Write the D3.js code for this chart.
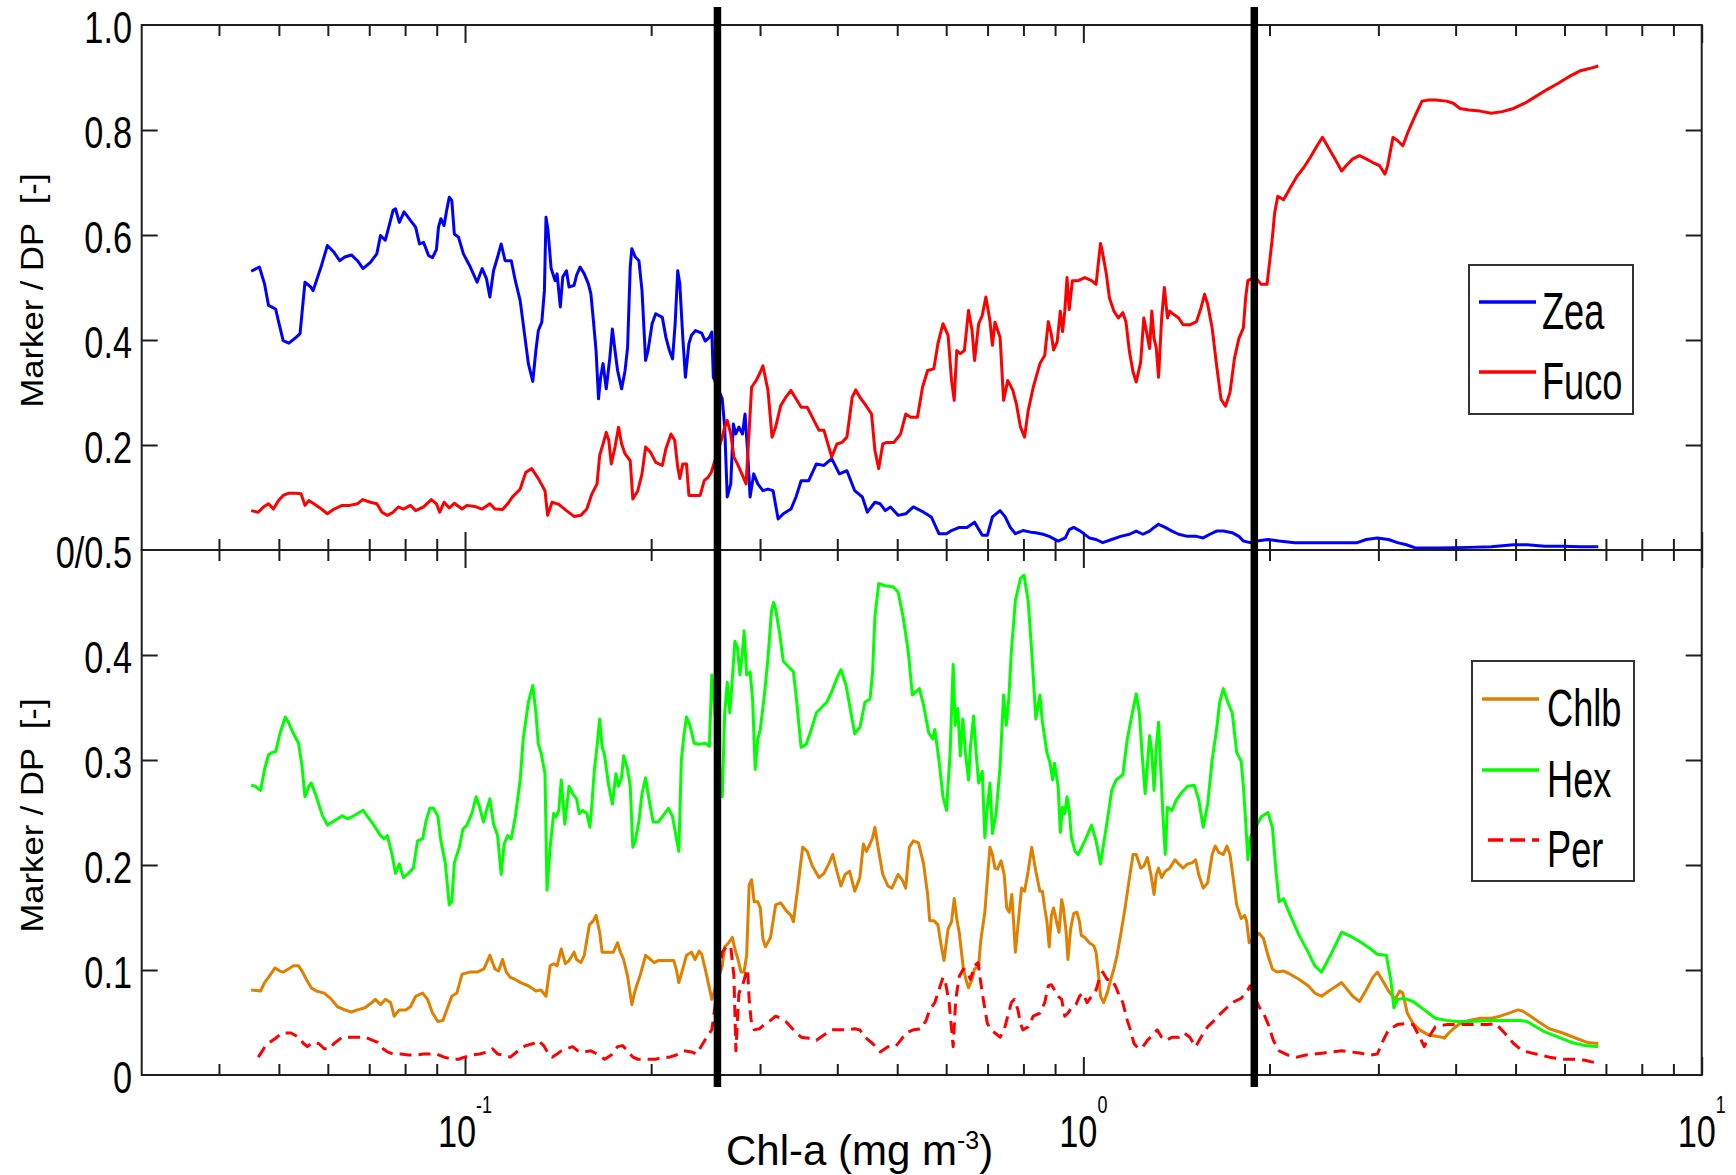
<!DOCTYPE html>
<html>
<head>
<meta charset="utf-8">
<script src="https://cdn.jsdelivr.net/npm/d3@7"></script>
<style>
  html, body { margin: 0; padding: 0; background: #fff; }
  svg { display: block; }
  text { font-family: "Liberation Sans", Arial, Helvetica, sans-serif; fill: #000; }
</style>
</head>
<body>
<svg id="chart" width="1736" height="1175"></svg>
<script>
// Marker pigment / diagnostic pigment ratios against Chl-a (running means), [chl, ratio]
const zea = [[0.0451,0.531],[0.0465,0.539],[0.0474,0.507],[0.0481,0.466],[0.0494,0.459],[0.0499,0.437],[0.0508,0.399],[0.0519,0.394],[0.0533,0.405],[0.0541,0.412],[0.0551,0.510],[0.0563,0.501],[0.0568,0.494],[0.0586,0.542],[0.0599,0.580],[0.0614,0.567],[0.0627,0.551],[0.0639,0.558],[0.0655,0.562],[0.0670,0.551],[0.0684,0.536],[0.0703,0.548],[0.0720,0.564],[0.0730,0.599],[0.0743,0.590],[0.0749,0.605],[0.0765,0.647],[0.0772,0.650],[0.0783,0.624],[0.0797,0.644],[0.0816,0.628],[0.0832,0.615],[0.0844,0.583],[0.0857,0.586],[0.0873,0.561],[0.0886,0.557],[0.0899,0.572],[0.0906,0.615],[0.0914,0.631],[0.0925,0.618],[0.0934,0.647],[0.0943,0.672],[0.0952,0.666],[0.0961,0.602],[0.0976,0.596],[0.0994,0.564],[0.1017,0.542],[0.1046,0.510],[0.1066,0.536],[0.1083,0.517],[0.1097,0.482],[0.1112,0.532],[0.1129,0.558],[0.1144,0.583],[0.1161,0.551],[0.1188,0.551],[0.1206,0.513],[0.1228,0.475],[0.1244,0.424],[0.1266,0.355],[0.1287,0.321],[0.1302,0.380],[0.1314,0.418],[0.1331,0.434],[0.1344,0.494],[0.1352,0.634],[0.1362,0.609],[0.1378,0.536],[0.1399,0.513],[0.1409,0.526],[0.1426,0.463],[0.1439,0.520],[0.1459,0.532],[0.1473,0.501],[0.1501,0.504],[0.1515,0.523],[0.1535,0.539],[0.1559,0.526],[0.1583,0.507],[0.1598,0.488],[0.1613,0.437],[0.1629,0.380],[0.1644,0.288],[0.1657,0.329],[0.1672,0.355],[0.1692,0.307],[0.1715,0.367],[0.1731,0.421],[0.1748,0.380],[0.1765,0.342],[0.1792,0.307],[0.1815,0.342],[0.1832,0.386],[0.1850,0.539],[0.1861,0.574],[0.1885,0.558],[0.1911,0.551],[0.1933,0.494],[0.1959,0.361],[0.1977,0.380],[0.2007,0.431],[0.2034,0.450],[0.2085,0.443],[0.2113,0.405],[0.2141,0.380],[0.2166,0.364],[0.2187,0.431],[0.2208,0.532],[0.2225,0.507],[0.2250,0.405],[0.2272,0.329],[0.2302,0.393],[0.2324,0.409],[0.2360,0.418],[0.2414,0.413],[0.2446,0.398],[0.2484,0.405],[0.2507,0.415],[0.2521,0.329],[0.2606,0.288],[0.2630,0.234],[0.2655,0.101],[0.2690,0.126],[0.2716,0.240],[0.2741,0.221],[0.2773,0.234],[0.2810,0.221],[0.2837,0.259],[0.2864,0.189],[0.2891,0.101],[0.2930,0.145],[0.2975,0.126],[0.3032,0.113],[0.3090,0.116],[0.3149,0.113],[0.3209,0.059],[0.3271,0.069],[0.3366,0.078],[0.3430,0.101],[0.3496,0.132],[0.3596,0.132],[0.3700,0.164],[0.3806,0.161],[0.3918,0.174],[0.4031,0.145],[0.4146,0.151],[0.4268,0.113],[0.4391,0.101],[0.4474,0.072],[0.4601,0.091],[0.4693,0.088],[0.4783,0.075],[0.4876,0.082],[0.5016,0.066],[0.5161,0.069],[0.5310,0.082],[0.5516,0.072],[0.5676,0.063],[0.5840,0.031],[0.6007,0.031],[0.6121,0.037],[0.6301,0.043],[0.6483,0.043],[0.6669,0.053],[0.6863,0.028],[0.6994,0.028],[0.7127,0.063],[0.7334,0.075],[0.7475,0.063],[0.7617,0.043],[0.7764,0.031],[0.7985,0.037],[0.8220,0.034],[0.8368,0.033],[0.8607,0.030],[0.8805,0.026],[0.9103,0.017],[0.9349,0.023],[0.9488,0.039],[0.9645,0.043],[0.9890,0.036],[1.0226,0.023],[1.0484,0.020],[1.0749,0.014],[1.1112,0.020],[1.1486,0.026],[1.1874,0.030],[1.2175,0.036],[1.2482,0.030],[1.2797,0.036],[1.3012,0.043],[1.3231,0.049],[1.3564,0.043],[1.3907,0.036],[1.4260,0.030],[1.4741,0.026],[1.5238,0.026],[1.5625,0.023],[1.6018,0.030],[1.6423,0.036],[1.6840,0.036],[1.7408,0.033],[1.7847,0.026],[1.8147,0.017],[1.8605,0.014],[1.9075,0.017],[1.9886,0.020],[2.0729,0.017],[2.1971,0.014],[2.3484,0.014],[2.5520,0.014],[2.7732,0.014],[2.8666,0.020],[2.988,0.023],[3.1153,0.020],[3.2205,0.014],[3.3296,0.010],[3.4422,0.004],[3.7408,0.004],[4.2027,0.005],[4.5671,0.006],[4.9630,0.010],[5.2167,0.010],[5.5750,0.007],[5.9588,0.007],[6.3690,0.006],[6.8049,0.006]];

const fuco = [[0.0451,0.075],[0.0463,0.072],[0.0472,0.082],[0.0481,0.088],[0.0490,0.078],[0.0499,0.094],[0.0508,0.104],[0.0518,0.108],[0.0533,0.108],[0.0543,0.107],[0.0551,0.085],[0.0559,0.094],[0.0568,0.089],[0.0586,0.078],[0.0599,0.069],[0.0614,0.078],[0.0633,0.085],[0.0651,0.085],[0.0670,0.088],[0.0683,0.096],[0.0703,0.091],[0.0720,0.088],[0.0734,0.072],[0.0749,0.066],[0.0765,0.072],[0.0780,0.082],[0.0795,0.078],[0.0816,0.085],[0.0832,0.075],[0.0857,0.082],[0.0882,0.096],[0.0899,0.088],[0.0910,0.072],[0.0925,0.091],[0.0943,0.080],[0.0961,0.089],[0.0989,0.078],[0.1007,0.085],[0.1037,0.083],[0.1066,0.078],[0.1097,0.088],[0.1118,0.078],[0.1150,0.077],[0.1172,0.088],[0.1195,0.102],[0.1228,0.116],[0.1254,0.148],[0.1282,0.155],[0.1314,0.136],[0.1347,0.113],[0.1360,0.066],[0.1383,0.091],[0.1418,0.087],[0.1459,0.075],[0.1501,0.064],[0.1539,0.066],[0.1574,0.078],[0.1604,0.107],[0.1635,0.126],[0.1651,0.180],[0.1672,0.202],[0.1692,0.224],[0.1708,0.209],[0.1724,0.164],[0.1748,0.196],[0.1771,0.234],[0.1792,0.202],[0.1815,0.183],[0.1850,0.170],[0.1868,0.097],[0.1903,0.113],[0.1933,0.145],[0.1959,0.196],[0.1996,0.186],[0.2034,0.167],[0.2085,0.161],[0.2113,0.193],[0.2153,0.221],[0.2183,0.209],[0.2208,0.158],[0.2225,0.136],[0.2250,0.164],[0.2281,0.164],[0.2302,0.104],[0.2355,0.104],[0.2400,0.104],[0.2437,0.132],[0.2474,0.139],[0.2502,0.148],[0.2606,0.215],[0.2630,0.234],[0.2655,0.247],[0.2690,0.221],[0.2722,0.177],[0.2758,0.164],[0.2810,0.142],[0.2848,0.126],[0.2881,0.228],[0.2907,0.310],[0.2958,0.323],[0.3003,0.339],[0.3032,0.351],[0.3090,0.304],[0.3137,0.215],[0.3179,0.234],[0.3240,0.275],[0.3302,0.291],[0.3366,0.304],[0.3430,0.288],[0.3496,0.272],[0.3576,0.272],[0.3666,0.247],[0.3736,0.228],[0.3806,0.228],[0.3918,0.177],[0.3994,0.202],[0.4070,0.205],[0.4146,0.215],[0.4228,0.291],[0.4285,0.305],[0.4350,0.291],[0.4434,0.278],[0.4544,0.259],[0.4601,0.190],[0.4667,0.155],[0.4738,0.202],[0.4811,0.205],[0.4940,0.205],[0.5063,0.221],[0.5161,0.259],[0.5260,0.253],[0.5391,0.253],[0.5494,0.310],[0.5599,0.342],[0.5730,0.345],[0.5818,0.393],[0.5929,0.431],[0.6043,0.409],[0.6121,0.323],[0.6182,0.285],[0.6241,0.380],[0.6324,0.374],[0.6421,0.380],[0.6520,0.456],[0.6607,0.418],[0.6669,0.361],[0.6771,0.431],[0.6863,0.447],[0.6956,0.482],[0.7061,0.437],[0.7127,0.390],[0.7196,0.434],[0.7334,0.405],[0.7430,0.285],[0.7546,0.323],[0.7691,0.304],[0.7793,0.278],[0.7913,0.234],[0.8034,0.215],[0.8141,0.265],[0.8298,0.310],[0.8506,0.355],[0.8660,0.371],[0.8776,0.435],[0.8878,0.410],[0.8952,0.381],[0.9072,0.397],[0.9178,0.455],[0.9254,0.416],[0.9332,0.455],[0.9410,0.519],[0.9488,0.458],[0.9599,0.513],[0.9809,0.513],[1.0056,0.519],[1.0311,0.513],[1.0484,0.506],[1.0571,0.545],[1.0660,0.584],[1.0749,0.564],[1.0892,0.526],[1.1020,0.480],[1.1204,0.455],[1.1392,0.442],[1.1583,0.452],[1.1718,0.435],[1.1874,0.377],[1.2033,0.339],[1.2175,0.320],[1.2379,0.358],[1.2524,0.442],[1.2650,0.416],[1.2797,0.384],[1.2903,0.455],[1.3012,0.403],[1.3122,0.384],[1.3231,0.329],[1.3386,0.442],[1.3520,0.500],[1.3678,0.442],[1.3793,0.455],[1.4022,0.448],[1.4260,0.442],[1.4498,0.429],[1.4865,0.429],[1.5238,0.435],[1.5496,0.461],[1.5704,0.487],[1.5887,0.468],[1.6153,0.423],[1.6423,0.352],[1.6699,0.287],[1.6980,0.274],[1.7264,0.300],[1.7554,0.365],[1.7847,0.403],[1.8147,0.423],[1.8299,0.480],[1.8451,0.513],[1.8667,0.516],[1.9075,0.516],[1.9393,0.506],[1.9816,0.506],[2.0051,0.558],[2.0218,0.596],[2.0387,0.642],[2.0626,0.674],[2.1075,0.667],[2.1610,0.690],[2.2155,0.712],[2.2714,0.728],[2.3287,0.748],[2.3876,0.770],[2.4358,0.786],[2.4888,0.767],[2.5520,0.745],[2.6163,0.722],[2.6602,0.732],[2.7271,0.745],[2.7962,0.751],[2.8666,0.745],[2.9390,0.738],[3.0137,0.732],[3.0743,0.716],[3.1050,0.732],[3.1677,0.786],[3.2205,0.780],[3.2857,0.770],[3.3574,0.799],[3.4422,0.828],[3.5290,0.855],[3.6183,0.857],[3.7098,0.857],[3.8674,0.855],[3.9649,0.851],[4.0650,0.841],[4.2027,0.838],[4.3809,0.836],[4.5671,0.832],[4.7607,0.835],[4.9630,0.841],[5.1734,0.851],[5.3933,0.864],[5.6220,0.877],[5.8609,0.889],[6.1094,0.902],[6.3690,0.913],[6.5836,0.917],[6.8049,0.922]];

const chlb = [[0.0451,0.081],[0.0467,0.080],[0.0474,0.088],[0.0481,0.093],[0.0493,0.102],[0.0502,0.099],[0.0508,0.098],[0.0518,0.101],[0.0528,0.104],[0.0538,0.104],[0.0545,0.099],[0.0554,0.091],[0.0564,0.083],[0.0575,0.080],[0.0592,0.078],[0.0606,0.073],[0.0622,0.065],[0.0639,0.062],[0.0655,0.060],[0.0670,0.062],[0.0689,0.064],[0.0707,0.069],[0.0716,0.072],[0.0730,0.067],[0.0743,0.072],[0.0758,0.069],[0.0768,0.056],[0.0783,0.062],[0.0802,0.062],[0.0816,0.065],[0.0832,0.075],[0.0854,0.078],[0.0870,0.072],[0.0886,0.059],[0.0904,0.051],[0.0921,0.052],[0.0934,0.062],[0.0952,0.075],[0.0970,0.078],[0.0989,0.096],[0.1017,0.098],[0.1046,0.098],[0.1073,0.101],[0.1097,0.114],[0.1118,0.101],[0.1133,0.099],[0.1150,0.110],[0.1166,0.098],[0.1184,0.093],[0.1206,0.091],[0.1230,0.088],[0.1266,0.085],[0.1302,0.080],[0.1327,0.081],[0.1352,0.075],[0.1373,0.104],[0.1391,0.106],[0.1409,0.104],[0.1431,0.120],[0.1453,0.106],[0.1473,0.109],[0.1501,0.117],[0.1515,0.110],[0.1539,0.107],[0.1559,0.114],[0.1589,0.143],[0.1613,0.147],[0.1629,0.152],[0.1651,0.136],[0.1666,0.117],[0.1715,0.117],[0.1737,0.117],[0.1765,0.126],[0.1781,0.118],[0.1805,0.110],[0.1832,0.094],[0.1861,0.067],[0.1885,0.081],[0.1922,0.096],[0.1959,0.114],[0.1996,0.110],[0.2022,0.107],[0.2053,0.109],[0.2093,0.109],[0.2133,0.109],[0.2175,0.109],[0.2196,0.101],[0.2217,0.088],[0.2250,0.101],[0.2281,0.114],[0.2324,0.117],[0.2355,0.110],[0.2391,0.118],[0.2414,0.115],[0.2446,0.101],[0.2484,0.083],[0.2507,0.072],[0.2606,0.104],[0.2630,0.122],[0.2670,0.126],[0.2706,0.131],[0.2732,0.120],[0.2758,0.112],[0.2795,0.098],[0.2827,0.098],[0.2854,0.114],[0.2881,0.181],[0.2907,0.186],[0.2935,0.165],[0.2975,0.165],[0.3003,0.159],[0.3032,0.130],[0.3061,0.122],[0.3119,0.131],[0.3179,0.162],[0.3240,0.164],[0.3302,0.157],[0.3366,0.152],[0.3397,0.146],[0.3462,0.184],[0.3516,0.217],[0.3576,0.213],[0.3645,0.199],[0.3736,0.188],[0.3806,0.192],[0.3882,0.202],[0.3933,0.210],[0.3994,0.194],[0.4055,0.180],[0.4117,0.191],[0.4188,0.194],[0.4268,0.175],[0.4350,0.188],[0.4408,0.220],[0.4459,0.213],[0.4518,0.220],[0.4562,0.226],[0.4601,0.236],[0.4667,0.213],[0.4738,0.191],[0.4829,0.180],[0.4903,0.178],[0.5016,0.191],[0.5092,0.186],[0.5161,0.178],[0.5230,0.217],[0.5310,0.223],[0.5412,0.221],[0.5516,0.201],[0.5599,0.172],[0.5643,0.147],[0.5730,0.147],[0.5818,0.143],[0.5895,0.122],[0.5951,0.109],[0.6043,0.139],[0.6121,0.146],[0.6182,0.168],[0.6241,0.149],[0.6301,0.135],[0.6397,0.101],[0.6458,0.091],[0.6520,0.083],[0.6607,0.091],[0.6669,0.101],[0.6771,0.104],[0.6824,0.128],[0.6929,0.155],[0.6994,0.186],[0.7061,0.217],[0.7127,0.210],[0.7196,0.197],[0.7265,0.196],[0.7360,0.204],[0.7446,0.191],[0.7518,0.159],[0.7589,0.155],[0.7662,0.172],[0.7764,0.117],[0.7868,0.152],[0.7943,0.178],[0.8034,0.175],[0.8141,0.194],[0.8251,0.217],[0.8378,0.194],[0.8506,0.175],[0.8586,0.175],[0.8660,0.159],[0.8732,0.146],[0.8805,0.122],[0.8878,0.152],[0.8952,0.159],[0.9072,0.143],[0.9132,0.136],[0.9224,0.167],[0.9284,0.159],[0.9378,0.136],[0.9441,0.110],[0.9536,0.139],[0.9647,0.154],[0.9760,0.155],[0.9858,0.146],[0.9923,0.133],[1.0056,0.131],[1.0226,0.126],[1.0397,0.123],[1.0484,0.117],[1.0571,0.098],[1.0660,0.075],[1.0783,0.069],[1.0928,0.078],[1.1074,0.091],[1.1204,0.101],[1.1335,0.114],[1.1486,0.133],[1.1680,0.159],[1.1874,0.188],[1.2033,0.210],[1.2175,0.210],[1.2379,0.197],[1.2524,0.199],[1.2692,0.207],[1.2861,0.191],[1.3012,0.172],[1.3122,0.191],[1.3231,0.197],[1.3386,0.188],[1.3564,0.194],[1.3793,0.197],[1.4068,0.205],[1.4260,0.201],[1.4498,0.197],[1.4741,0.201],[1.4989,0.202],[1.5188,0.205],[1.5367,0.191],[1.5625,0.178],[1.5887,0.183],[1.6153,0.210],[1.6341,0.218],[1.6559,0.212],[1.6840,0.210],[1.7066,0.218],[1.7264,0.210],[1.7466,0.188],[1.7700,0.162],[1.7995,0.149],[1.8236,0.152],[1.8360,0.147],[1.8544,0.126],[1.9234,0.135],[1.9555,0.130],[1.9886,0.114],[2.0218,0.101],[2.0556,0.098],[2.1075,0.099],[2.1610,0.096],[2.2338,0.091],[2.3093,0.085],[2.3679,0.078],[2.4275,0.075],[2.5095,0.081],[2.6163,0.088],[2.7271,0.075],[2.7962,0.070],[2.8666,0.081],[2.9390,0.093],[2.9884,0.098],[3.0541,0.089],[3.1153,0.080],[3.1939,0.072],[3.2476,0.080],[3.2857,0.078],[3.3407,0.059],[3.4138,0.049],[3.4996,0.043],[3.6183,0.038],[3.8031,0.036],[3.8351,0.035],[3.8995,0.040],[3.9649,0.044],[4.0650,0.049],[4.2027,0.052],[4.3809,0.054],[4.5671,0.054],[4.7210,0.056],[4.8804,0.059],[5.0459,0.062],[5.1303,0.061],[5.2598,0.057],[5.4381,0.051],[5.6689,0.044],[5.9588,0.040],[6.2630,0.035],[6.5295,0.031],[6.8049,0.030]];

const hex = [[0.0451,0.276],[0.0458,0.275],[0.0467,0.271],[0.0474,0.291],[0.0481,0.305],[0.0487,0.307],[0.0494,0.308],[0.0502,0.325],[0.0512,0.341],[0.0518,0.336],[0.0528,0.325],[0.0538,0.316],[0.0545,0.294],[0.0551,0.265],[0.0559,0.275],[0.0564,0.278],[0.0575,0.265],[0.0588,0.247],[0.0599,0.238],[0.0614,0.242],[0.0633,0.247],[0.0645,0.244],[0.0657,0.246],[0.0670,0.249],[0.0684,0.252],[0.0696,0.246],[0.0712,0.238],[0.0730,0.228],[0.0740,0.225],[0.0749,0.228],[0.0762,0.210],[0.0772,0.192],[0.0783,0.201],[0.0795,0.188],[0.0810,0.192],[0.0825,0.197],[0.0838,0.223],[0.0854,0.225],[0.0865,0.242],[0.0877,0.254],[0.0890,0.254],[0.0904,0.246],[0.0914,0.223],[0.0929,0.202],[0.0943,0.162],[0.0952,0.165],[0.0961,0.202],[0.0979,0.217],[0.0992,0.234],[0.1007,0.238],[0.1027,0.250],[0.1042,0.265],[0.1056,0.255],[0.1071,0.241],[0.1083,0.252],[0.1097,0.263],[0.1112,0.239],[0.1129,0.228],[0.1144,0.191],[0.1157,0.220],[0.1172,0.228],[0.1188,0.225],[0.1206,0.246],[0.1228,0.281],[0.1242,0.320],[0.1266,0.355],[0.1287,0.371],[0.1302,0.345],[0.1314,0.315],[0.1327,0.307],[0.1347,0.287],[0.1357,0.176],[0.1373,0.217],[0.1391,0.249],[0.1404,0.246],[0.1418,0.252],[0.1431,0.281],[0.1450,0.239],[0.1473,0.275],[0.1493,0.268],[0.1515,0.263],[0.1530,0.249],[0.1550,0.252],[0.1574,0.249],[0.1592,0.236],[0.1604,0.258],[0.1619,0.291],[0.1635,0.313],[0.1651,0.339],[0.1666,0.313],[0.1682,0.304],[0.1705,0.278],[0.1731,0.258],[0.1754,0.287],[0.1771,0.275],[0.1792,0.284],[0.1805,0.304],[0.1832,0.291],[0.1850,0.275],[0.1868,0.217],[0.1885,0.223],[0.1911,0.242],[0.1933,0.268],[0.1959,0.283],[0.1985,0.262],[0.2015,0.241],[0.2053,0.241],[0.2085,0.246],[0.2133,0.254],[0.2166,0.246],[0.2196,0.226],[0.2217,0.213],[0.2238,0.300],[0.2259,0.323],[0.2281,0.341],[0.2311,0.333],[0.2347,0.316],[0.2391,0.315],[0.2446,0.316],[0.2484,0.313],[0.2507,0.381],[0.2606,0.265],[0.2630,0.345],[0.2655,0.374],[0.2681,0.345],[0.2706,0.378],[0.2732,0.413],[0.2758,0.407],[0.2784,0.381],[0.2810,0.403],[0.2827,0.423],[0.2854,0.381],[0.2891,0.384],[0.2918,0.358],[0.2946,0.291],[0.2975,0.320],[0.3003,0.329],[0.3049,0.362],[0.3090,0.397],[0.3131,0.442],[0.3154,0.450],[0.3179,0.444],[0.3228,0.420],[0.3271,0.394],[0.3334,0.389],[0.3397,0.384],[0.3430,0.362],[0.3496,0.312],[0.3563,0.315],[0.3631,0.329],[0.3700,0.345],[0.3772,0.350],[0.3845,0.355],[0.3918,0.365],[0.3994,0.378],[0.4055,0.386],[0.4133,0.371],[0.4188,0.352],[0.4268,0.325],[0.4350,0.331],[0.4434,0.355],[0.4518,0.358],[0.4562,0.384],[0.4601,0.436],[0.4667,0.468],[0.4783,0.466],[0.4921,0.465],[0.5016,0.460],[0.5112,0.436],[0.5210,0.403],[0.5290,0.362],[0.5361,0.365],[0.5432,0.368],[0.5516,0.352],[0.5622,0.326],[0.5708,0.320],[0.5751,0.329],[0.5840,0.300],[0.5929,0.265],[0.6007,0.252],[0.6089,0.307],[0.6158,0.391],[0.6206,0.333],[0.6265,0.349],[0.6324,0.304],[0.6385,0.339],[0.6445,0.307],[0.6520,0.281],[0.6569,0.313],[0.6644,0.342],[0.6708,0.307],[0.6771,0.278],[0.6863,0.289],[0.6929,0.226],[0.6994,0.255],[0.7061,0.278],[0.7127,0.230],[0.7224,0.249],[0.7334,0.294],[0.7430,0.362],[0.7503,0.333],[0.7575,0.358],[0.7647,0.403],[0.7764,0.452],[0.7913,0.473],[0.8018,0.476],[0.8141,0.452],[0.8251,0.403],[0.8378,0.339],[0.8506,0.362],[0.8586,0.336],[0.8732,0.307],[0.8834,0.297],[0.8922,0.281],[0.8982,0.297],[0.9103,0.275],[0.9178,0.231],[0.9254,0.255],[0.9332,0.249],[0.9410,0.265],[0.9488,0.252],[0.9567,0.226],[0.9695,0.213],[0.9809,0.210],[1.0056,0.223],[1.0311,0.238],[1.0484,0.223],[1.0660,0.201],[1.0928,0.242],[1.1112,0.271],[1.1298,0.281],[1.1583,0.286],[1.1777,0.320],[1.1974,0.342],[1.2175,0.363],[1.2318,0.345],[1.2441,0.307],[1.2587,0.268],[1.2692,0.294],[1.2797,0.323],[1.2903,0.307],[1.3012,0.271],[1.3122,0.313],[1.3231,0.336],[1.3341,0.291],[1.3453,0.246],[1.3564,0.210],[1.3678,0.255],[1.3907,0.252],[1.4140,0.262],[1.4378,0.268],[1.4741,0.275],[1.5113,0.276],[1.5367,0.262],[1.5625,0.236],[1.5887,0.258],[1.6153,0.300],[1.6423,0.329],[1.6613,0.355],[1.6840,0.368],[1.7121,0.355],[1.7408,0.345],[1.7700,0.307],[1.7995,0.299],[1.8147,0.275],[1.8299,0.242],[1.8451,0.205],[1.8605,0.226],[1.9393,0.246],[1.9886,0.250],[2.0218,0.236],[2.0489,0.194],[2.0729,0.165],[2.1075,0.168],[2.1610,0.152],[2.2338,0.133],[2.3093,0.117],[2.3679,0.104],[2.4275,0.098],[2.5095,0.114],[2.6163,0.136],[2.7271,0.131],[2.8195,0.126],[2.9149,0.120],[2.9884,0.115],[3.0896,0.114],[3.1415,0.091],[3.1779,0.064],[3.2205,0.072],[3.3021,0.073],[3.4138,0.070],[3.5589,0.062],[3.7098,0.054],[3.8674,0.052],[4.0314,0.051],[4.2027,0.051],[4.5671,0.052],[4.8804,0.052],[5.0881,0.052],[5.2167,0.051],[5.3933,0.046],[5.5750,0.041],[5.8609,0.036],[6.1604,0.031],[6.4754,0.028],[6.8049,0.027]];

const per = [[0.0463,0.017],[0.0469,0.022],[0.0476,0.028],[0.0483,0.031],[0.0494,0.035],[0.0506,0.040],[0.0523,0.040],[0.0538,0.036],[0.0548,0.030],[0.0556,0.027],[0.0566,0.031],[0.0580,0.030],[0.0592,0.025],[0.0604,0.025],[0.0614,0.030],[0.0633,0.036],[0.0651,0.036],[0.0670,0.036],[0.0689,0.036],[0.0709,0.033],[0.0723,0.031],[0.0737,0.025],[0.0749,0.022],[0.0765,0.020],[0.0787,0.020],[0.0810,0.019],[0.0832,0.019],[0.0857,0.020],[0.0882,0.020],[0.0899,0.020],[0.0925,0.017],[0.0952,0.015],[0.0976,0.015],[0.0998,0.017],[0.1027,0.019],[0.1056,0.020],[0.1087,0.022],[0.1108,0.025],[0.1129,0.020],[0.1150,0.019],[0.1184,0.017],[0.1218,0.023],[0.1254,0.028],[0.1290,0.030],[0.1314,0.033],[0.1340,0.028],[0.1365,0.020],[0.1383,0.017],[0.1409,0.020],[0.1431,0.023],[0.1459,0.025],[0.1493,0.027],[0.1530,0.022],[0.1559,0.022],[0.1598,0.023],[0.1635,0.020],[0.1682,0.015],[0.1724,0.019],[0.1765,0.027],[0.1798,0.028],[0.1832,0.023],[0.1868,0.017],[0.1903,0.015],[0.1977,0.015],[0.2034,0.015],[0.2085,0.017],[0.2141,0.017],[0.2196,0.019],[0.2259,0.023],[0.2324,0.022],[0.2369,0.020],[0.2414,0.028],[0.2460,0.036],[0.2507,0.043],[0.2606,0.117],[0.2630,0.120],[0.2655,0.123],[0.2690,0.122],[0.2722,0.094],[0.2742,0.023],[0.2773,0.078],[0.2810,0.085],[0.2837,0.094],[0.2864,0.101],[0.2881,0.072],[0.2902,0.052],[0.2935,0.043],[0.2992,0.044],[0.3061,0.049],[0.3119,0.052],[0.3179,0.056],[0.3240,0.054],[0.3302,0.051],[0.3397,0.043],[0.3496,0.036],[0.3596,0.035],[0.3700,0.033],[0.3806,0.038],[0.3918,0.043],[0.4031,0.043],[0.4146,0.043],[0.4268,0.044],[0.4350,0.043],[0.4434,0.036],[0.4562,0.030],[0.4693,0.022],[0.4829,0.027],[0.4968,0.027],[0.5063,0.033],[0.5161,0.040],[0.5310,0.043],[0.5463,0.044],[0.5567,0.052],[0.5643,0.062],[0.5751,0.069],[0.5840,0.081],[0.5929,0.093],[0.5985,0.088],[0.6066,0.069],[0.6158,0.027],[0.6217,0.072],[0.6301,0.094],[0.6397,0.101],[0.6483,0.099],[0.6569,0.091],[0.6669,0.104],[0.6757,0.107],[0.6824,0.088],[0.6902,0.069],[0.6994,0.049],[0.7088,0.043],[0.7196,0.040],[0.7334,0.036],[0.7446,0.043],[0.7546,0.056],[0.7647,0.069],[0.7735,0.072],[0.7838,0.062],[0.7913,0.049],[0.7985,0.043],[0.8141,0.046],[0.8298,0.056],[0.8506,0.059],[0.8660,0.069],[0.8776,0.085],[0.8878,0.086],[0.8982,0.081],[0.9103,0.075],[0.9224,0.072],[0.9332,0.056],[0.9441,0.059],[0.9567,0.064],[0.9727,0.067],[0.9858,0.075],[0.9973,0.078],[1.0140,0.069],[1.0311,0.075],[1.0484,0.081],[1.0606,0.091],[1.0749,0.098],[1.0928,0.091],[1.1112,0.091],[1.1261,0.085],[1.1392,0.078],[1.1583,0.069],[1.1777,0.052],[1.1913,0.043],[1.2075,0.030],[1.2277,0.025],[1.2482,0.027],[1.2692,0.033],[1.2946,0.038],[1.3165,0.043],[1.3386,0.036],[1.3610,0.033],[1.3907,0.036],[1.4260,0.036],[1.4547,0.040],[1.4865,0.036],[1.5188,0.027],[1.5496,0.036],[1.5887,0.046],[1.6288,0.052],[1.6699,0.059],[1.7121,0.065],[1.7554,0.070],[1.7995,0.073],[1.8451,0.081],[1.8605,0.085],[1.9234,0.065],[1.9555,0.059],[1.9886,0.049],[2.0286,0.033],[2.0729,0.023],[2.1429,0.019],[2.2155,0.017],[2.2902,0.019],[2.3679,0.020],[2.4480,0.021],[2.5306,0.022],[2.6163,0.023],[2.7046,0.022],[2.7962,0.021],[2.9149,0.019],[2.9884,0.020],[3.0541,0.033],[3.1153,0.043],[3.2205,0.048],[3.3296,0.049],[3.4138,0.048],[3.4996,0.036],[3.5589,0.027],[3.6183,0.036],[3.7098,0.046],[3.8674,0.048],[4.0650,0.048],[4.2729,0.048],[4.4910,0.048],[4.6434,0.049],[4.8005,0.040],[4.9630,0.030],[5.1303,0.023],[5.3933,0.020],[5.6689,0.017],[5.9588,0.015],[6.2630,0.015],[6.4754,0.014],[6.6945,0.012],[6.8049,0.011]];

// Chl-a thresholds separating the trophic regimes
const regimeBounds = [0.256, 1.89];

// Axis ticks and labels
const xMajorTicks = [0.1, 1, 10];
const xMinorTicks = [0.04,0.05,0.06,0.07,0.08,0.09,0.2,0.3,0.4,0.5,0.6,0.7,0.8,0.9,2,3,4,5,6,7,8,9];
const xTickExponents = ["-1", "0", "1"];
const yTopTicks = [0, 0.2, 0.4, 0.6, 0.8, 1.0];
const yTopLabels = ["0/0.5", "0.2", "0.4", "0.6", "0.8", "1.0"];
const yBotTicks = [0, 0.1, 0.2, 0.3, 0.4];
const yBotLabels = ["0", "0.1", "0.2", "0.3", "0.4"];

const topSeries = [
  { name: "Zea",  data: zea,  color: "#0000ff", dash: null },
  { name: "Fuco", data: fuco, color: "#ff0000", dash: null }
];
const botSeries = [
  { name: "Chlb", data: chlb, color: "#e07f00", dash: null },
  { name: "Hex",  data: hex,  color: "#00ff00", dash: null },
  { name: "Per",  data: per,  color: "#ff0000", dash: "12,7" }
];

// ---------- layout ----------
const L = 141.7, R = 1701.7, T = 25, M = 550, B = 1075;
const svg = d3.select("#chart");
svg.append("rect").attr("width", 1736).attr("height", 1175).attr("fill", "#fff");

const x = d3.scaleLog().domain([0.03, 10]).range([L, R]);
const yTop = d3.scaleLinear().domain([0, 1]).range([M, T]);
const yBot = d3.scaleLinear().domain([0, 0.5]).range([B, M]);

const axisColor = "#1e1e1e";

function styleAxis(g) {
  g.select(".domain").remove();
  g.selectAll(".tick line").attr("stroke", axisColor).attr("stroke-width", 2);
  g.selectAll(".tick text").remove();
}

function drawPanel(y, yTicks, yTop0, yBot0) {
  // inward ticks on all four sides
  const xa = [
    [d3.axisBottom(x).tickValues(xMinorTicks).tickSizeInner(-11), yBot0],
    [d3.axisBottom(x).tickValues(xMajorTicks).tickSizeInner(-18), yBot0],
    [d3.axisTop(x).tickValues(xMinorTicks).tickSizeInner(-11), yTop0],
    [d3.axisTop(x).tickValues(xMajorTicks).tickSizeInner(-18), yTop0]
  ];
  xa.forEach(([ax, ty]) => {
    svg.append("g").attr("transform", `translate(0,${ty})`)
      .call(ax.tickSizeOuter(0).tickFormat(""))
      .call(styleAxis);
  });
  svg.append("g").attr("transform", `translate(${L},0)`)
    .call(d3.axisLeft(y).tickValues(yTicks).tickSizeInner(-16).tickSizeOuter(0).tickFormat(""))
    .call(styleAxis);
  svg.append("g").attr("transform", `translate(${R},0)`)
    .call(d3.axisRight(y).tickValues(yTicks).tickSizeInner(-16).tickSizeOuter(0).tickFormat(""))
    .call(styleAxis);
}

drawPanel(yTop, yTopTicks.slice(1, -1), T, M);
drawPanel(yBot, yBotTicks.slice(1), M, B);

// data lines
function drawSeries(list, y) {
  const line = d3.line().x(d => x(d[0])).y(d => y(d[1]));
  list.forEach(s => {
    svg.append("path")
      .datum(s.data)
      .attr("d", line)
      .attr("fill", "none")
      .attr("stroke", s.color)
      .attr("stroke-width", 3)
      .attr("stroke-linejoin", "round")
      .attr("stroke-dasharray", s.dash);
  });
}
drawSeries(topSeries, yTop);
drawSeries(botSeries, yBot);

// frames
[[T, M], [M, B]].forEach(([a, b]) => {
  svg.append("rect").attr("x", L).attr("y", a).attr("width", R - L).attr("height", b - a)
    .attr("fill", "none").attr("stroke", axisColor).attr("stroke-width", 2);
});

// regime boundaries
svg.selectAll(".bound").data(regimeBounds).enter().append("line")
  .attr("class", "bound")
  .attr("x1", d => x(d)).attr("x2", d => x(d))
  .attr("y1", 7).attr("y2", 1087)
  .attr("stroke", "#000").attr("stroke-width", 7.5);

// y tick labels (condensed Helvetica look)
function yLabels(y, vals, labels) {
  vals.forEach((v, i) => {
    svg.append("text")
      .attr("transform", `translate(132,${y(v) + 17.5}) scale(0.77,1)`)
      .attr("text-anchor", "end")
      .attr("font-size", 44.5)
      .text(labels[i]);
  });
}
yLabels(yTop, yTopTicks, yTopLabels);
yLabels(yBot, yBotTicks, yBotLabels);

// x tick labels: 10^n
xMajorTicks.forEach((v, i) => {
  const t = svg.append("text")
    .attr("transform", `translate(${x(v)},1147) scale(0.78,1)`)
    .attr("text-anchor", "middle")
    .attr("font-size", 44);
  t.append("tspan").text("10");
  t.append("tspan").attr("dy", -34).attr("font-size", 23).text(xTickExponents[i]);
});

// y axis titles
[(T + M) / 2 + 3, (M + B) / 2 + 3].forEach(cy => {
  svg.append("text")
    .attr("transform", `translate(43,${cy}) rotate(-90)`)
    .attr("text-anchor", "middle")
    .attr("font-size", 32)
    .attr("textLength", 234)
    .attr("lengthAdjust", "spacingAndGlyphs")
    .style("white-space", "pre")
    .text("Marker / DP  [-]");
});

// x axis title
const xt = svg.append("text")
  .attr("x", 726).attr("y", 1165)
  .attr("font-family", "Lato, 'Open Sans', sans-serif")
  .attr("font-size", 42);
xt.append("tspan").text("Chl-a (mg m");
xt.append("tspan").attr("dy", -16).attr("font-size", 25).text("-3");
xt.append("tspan").attr("dy", 16).text(")");

// legends
function legend(box, items, lineX1, lineX2, textX) {
  svg.append("rect").attr("x", box[0]).attr("y", box[1])
    .attr("width", box[2] - box[0]).attr("height", box[3] - box[1])
    .attr("fill", "#fff").attr("stroke", "#333").attr("stroke-width", 2);
  items.forEach(it => {
    svg.append("line")
      .attr("x1", it.s.dash ? lineX1 + 6 : lineX1).attr("x2", lineX2)
      .attr("y1", it.y).attr("y2", it.y)
      .attr("stroke", it.s.color).attr("stroke-width", 3.3)
      .attr("stroke-dasharray", it.s.dash ? "15,7" : null);
    svg.append("text")
      .attr("transform", `translate(${textX},${it.y + 27}) scale(0.71,1)`)
      .attr("font-size", 51)
      .text(it.s.name);
  });
}
legend([1469, 265, 1633, 414], [{ s: topSeries[0], y: 302 }, { s: topSeries[1], y: 372 }], 1479, 1536, 1542);
legend([1472, 661, 1634, 881], [{ s: botSeries[0], y: 699 }, { s: botSeries[1], y: 770 }, { s: botSeries[2], y: 840 }], 1482, 1539, 1547);
</script>
</body>
</html>
